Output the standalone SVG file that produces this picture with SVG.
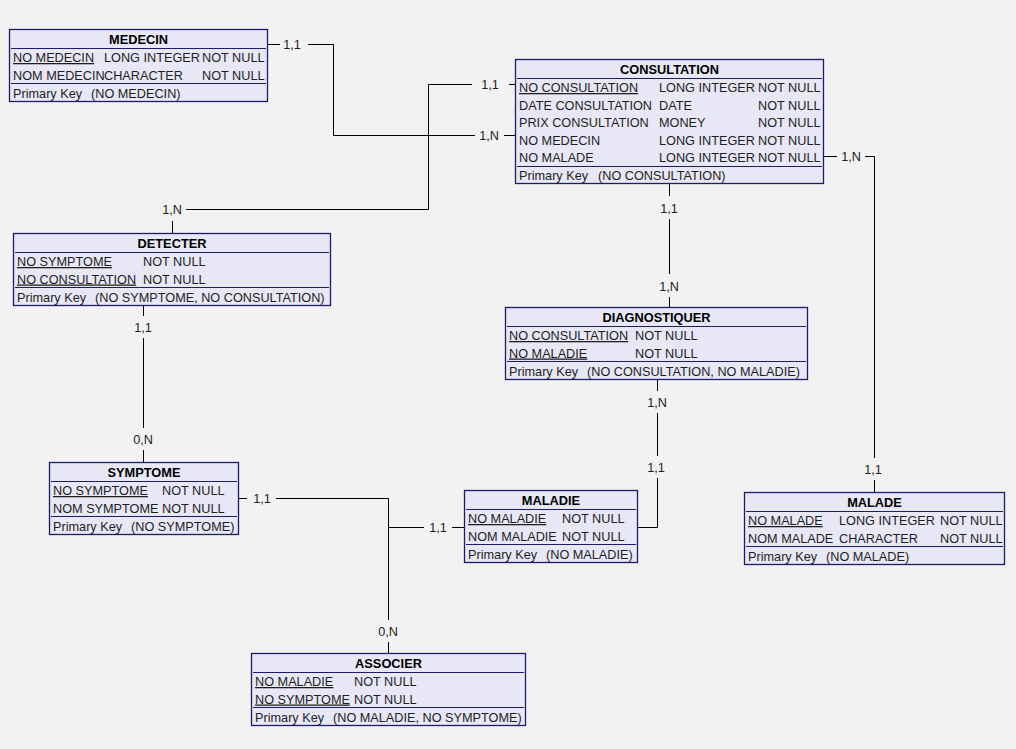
<svg xmlns="http://www.w3.org/2000/svg" width="1016" height="749" viewBox="0 0 1016 749">
<style>
.bg{fill:#f2f2f2}
.box{fill:#e7e7f5;stroke:#1c1c6a;stroke-width:1.3}
.sep{stroke:#1c1c6a;stroke-width:1;fill:none}
.t{font-family:"Liberation Sans",Arial,sans-serif;font-size:12.8px;font-weight:bold;fill:#000;text-anchor:middle}
.r{font-family:"Liberation Sans",Arial,sans-serif;font-size:12.7px;fill:#1e1e1e}
.u{text-decoration:underline}
.lbl{font-family:"Liberation Sans",Arial,sans-serif;font-size:12.7px;fill:#222;text-anchor:middle}
.ln{stroke:#000;stroke-width:1;fill:none}
</style>
<defs>
<clipPath id="clipAssoc"><rect x="251" y="653" width="274" height="73"/></clipPath>
</defs>
<rect class="bg" x="0" y="0" width="1016" height="749"/>

<g id="connectors">
<path class="ln" d="M268,44.5H280M308,44.5H333.5V135.5H475M504,135.5H515"/>
<path class="ln" d="M515,84.5H509M472,84.5H428.5V209.5H186M172.5,221V233"/>
<path class="ln" d="M824,156.5H837M865,156.5H874.5V458M874.5,480V492"/>
<path class="ln" d="M669.5,184V196M669.5,219V274M669.5,297V307"/>
<path class="ln" d="M657.5,379V391M657.5,413V456M657.5,478V527.5H638"/>
<path class="ln" d="M143.5,306V316M143.5,338V428M143.5,450V462"/>
<path class="ln" d="M239,498.5H247M276,498.5H388.5V620M388.5,642V653"/>
<path class="ln" d="M464,527.5H452M424,527.5H388.5"/>
<text class="lbl" x="292" y="49">1,1</text>
<text class="lbl" x="490" y="89">1,1</text>
<text class="lbl" x="489" y="140">1,N</text>
<text class="lbl" x="172" y="214">1,N</text>
<text class="lbl" x="851" y="161">1,N</text>
<text class="lbl" x="873" y="474">1,1</text>
<text class="lbl" x="669" y="213">1,1</text>
<text class="lbl" x="669" y="291">1,N</text>
<text class="lbl" x="657" y="407">1,N</text>
<text class="lbl" x="656" y="472">1,1</text>
<text class="lbl" x="143" y="332">1,1</text>
<text class="lbl" x="143" y="444">0,N</text>
<text class="lbl" x="262" y="503">1,1</text>
<text class="lbl" x="438" y="532">1,1</text>
<text class="lbl" x="388" y="636">0,N</text>
</g>

<g id="medecin">
<rect class="box" x="9.5" y="29.5" width="258" height="72"/>
<text class="t" x="138.5" y="44">MEDECIN</text>
<path class="sep" d="M11,48.5H266M11,83.5H266"/>
<text class="r u" x="13" y="62">NO MEDECIN</text><text class="r" x="104" y="62">LONG INTEGER</text><text class="r" x="202" y="62">NOT NULL</text>
<text class="r" x="13" y="79.5">NOM MEDECIN</text><text class="r" x="104" y="79.5">CHARACTER</text><text class="r" x="202" y="79.5">NOT NULL</text>
<text class="r" x="13" y="97.5">Primary Key</text><text class="r" x="91" y="97.5">(NO MEDECIN)</text>
</g>

<g id="consultation">
<rect class="box" x="515.5" y="59.5" width="308" height="124"/>
<text class="t" x="669.5" y="74">CONSULTATION</text>
<path class="sep" d="M517,78.5H822M517,166.5H822"/>
<text class="r u" x="519" y="92">NO CONSULTATION</text><text class="r" x="659" y="92">LONG INTEGER</text><text class="r" x="758" y="92">NOT NULL</text>
<text class="r" x="519" y="109.5">DATE CONSULTATION</text><text class="r" x="659" y="109.5">DATE</text><text class="r" x="758" y="109.5">NOT NULL</text>
<text class="r" x="519" y="127">PRIX CONSULTATION</text><text class="r" x="659" y="127">MONEY</text><text class="r" x="758" y="127">NOT NULL</text>
<text class="r" x="519" y="144.5">NO MEDECIN</text><text class="r" x="659" y="144.5">LONG INTEGER</text><text class="r" x="758" y="144.5">NOT NULL</text>
<text class="r" x="519" y="162">NO MALADE</text><text class="r" x="659" y="162">LONG INTEGER</text><text class="r" x="758" y="162">NOT NULL</text>
<text class="r" x="519" y="180">Primary Key</text><text class="r" x="598" y="180">(NO CONSULTATION)</text>
</g>

<g id="detecter">
<rect class="box" x="13.5" y="233.5" width="317" height="72"/>
<text class="t" x="172" y="248">DETECTER</text>
<path class="sep" d="M15,252.5H329M15,287.5H329"/>
<text class="r u" x="17" y="266">NO SYMPTOME</text><text class="r" x="143" y="266">NOT NULL</text>
<text class="r u" x="17" y="283.5">NO CONSULTATION</text><text class="r" x="143" y="283.5">NOT NULL</text>
<text class="r" x="17" y="301.5">Primary Key</text><text class="r" x="95" y="301.5">(NO SYMPTOME, NO CONSULTATION)</text>
</g>

<g id="diagnostiquer">
<rect class="box" x="505.5" y="307.5" width="302" height="72"/>
<text class="t" x="656.5" y="322">DIAGNOSTIQUER</text>
<path class="sep" d="M507,326.5H806M507,361.5H806"/>
<text class="r u" x="509" y="340">NO CONSULTATION</text><text class="r" x="635" y="340">NOT NULL</text>
<text class="r u" x="509" y="357.5">NO MALADIE</text><text class="r" x="635" y="357.5">NOT NULL</text>
<text class="r" x="509" y="375.5">Primary Key</text><text class="r" x="587" y="375.5">(NO CONSULTATION, NO MALADIE)</text>
</g>

<g id="symptome">
<rect class="box" x="49.5" y="462.5" width="189" height="72"/>
<text class="t" x="144" y="477">SYMPTOME</text>
<path class="sep" d="M51,481.5H237M51,516.5H237"/>
<text class="r u" x="53" y="495">NO SYMPTOME</text><text class="r" x="162" y="495">NOT NULL</text>
<text class="r" x="53" y="512.5">NOM SYMPTOME</text><text class="r" x="162" y="512.5">NOT NULL</text>
<text class="r" x="53" y="530.5">Primary Key</text><text class="r" x="131" y="530.5">(NO SYMPTOME)</text>
</g>

<g id="maladie">
<rect class="box" x="464.5" y="490.5" width="173" height="72"/>
<text class="t" x="551" y="505">MALADIE</text>
<path class="sep" d="M466,509.5H636M466,544.5H636"/>
<text class="r u" x="468" y="523">NO MALADIE</text><text class="r" x="562" y="523">NOT NULL</text>
<text class="r" x="468" y="540.5">NOM MALADIE</text><text class="r" x="562" y="540.5">NOT NULL</text>
<text class="r" x="468" y="558.5">Primary Key</text><text class="r" x="546" y="558.5">(NO MALADIE)</text>
</g>

<g id="malade">
<rect class="box" x="744.5" y="492.5" width="260" height="72"/>
<text class="t" x="874.5" y="507">MALADE</text>
<path class="sep" d="M746,511.5H1003M746,546.5H1003"/>
<text class="r u" x="748" y="525">NO MALADE</text><text class="r" x="839" y="525">LONG INTEGER</text><text class="r" x="940" y="525">NOT NULL</text>
<text class="r" x="748" y="542.5">NOM MALADE</text><text class="r" x="839" y="542.5">CHARACTER</text><text class="r" x="940" y="542.5">NOT NULL</text>
<text class="r" x="748" y="560.5">Primary Key</text><text class="r" x="826" y="560.5">(NO MALADE)</text>
</g>

<g id="associer">
<rect class="box" x="251.5" y="653.5" width="274" height="72"/>
<text class="t" x="388.5" y="668">ASSOCIER</text>
<path class="sep" d="M253,672.5H524M253,707.5H524"/>
<text class="r u" x="255" y="686">NO MALADIE</text><text class="r" x="354" y="686">NOT NULL</text>
<text class="r u" x="255" y="703.5">NO SYMPTOME</text><text class="r" x="354" y="703.5">NOT NULL</text>
<g clip-path="url(#clipAssoc)"><text class="r" x="255" y="721.5">Primary Key</text><text class="r" x="333" y="721.5">(NO MALADIE, NO SYMPTOME)</text></g>
</g>
</svg>
